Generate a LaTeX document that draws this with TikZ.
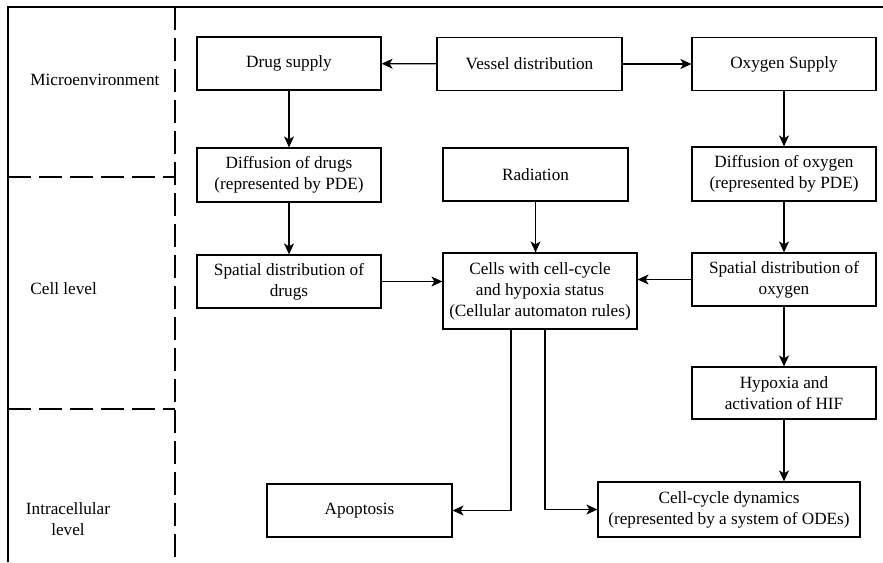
\documentclass[tikz,border=0pt]{standalone}
\usepackage{fontspec}
\setmainfont{LiberationSerif}[Extension=.ttf,UprightFont=*-Regular,BoldFont=*-Bold]
\usetikzlibrary{arrows.meta,positioning}

\begin{document}
\begin{tikzpicture}[x=0.5pt,y=-0.5pt,>={Stealth[length=5.5pt,width=5pt,inset=1.5pt]},
    every node/.style={font=\rmfamily\fontsize{8.6}{10.5}\selectfont},
    box/.style={draw,line width=0.6pt,minimum width=92pt,minimum height=26.5pt,align=center,inner sep=1pt},
    level/.style={align=center,inner sep=0pt},
    divider/.style={line width=0.6pt,dash pattern=on 11.5pt off 4pt}]

    \useasboundingbox (0,0) rectangle (883,562);

    % frame and levels
    \draw[line width=0.6pt] (8,562) -- (8,7) -- (883,7);
    \draw[divider] (175,7) -- (175,562);
    \draw[divider] (8,177) -- (175,177);
    \draw[divider] (8,409) -- (175,409);

    \node[level,anchor=west] (micro) at (30,80) {Microenvironment};
    \node[level,anchor=west] (celllev) at (30,289) {Cell level};
    \node[level] (intra) at (68,519) {Intracellular\\level};

    % boxes
    \node[box] (drug) at (289,63.5) {Drug supply};
    \node[box,minimum width=92.5pt] (vessel) at (529.5,64) {Vessel distribution};
    \node[box] (oxy) at (784,64) {Oxygen Supply};

    \node[box,minimum height=27pt] (diffd) at (289,175) {Diffusion of drugs\\(represented by PDE)};
    \node[box,minimum width=92.5pt] (rad) at (535.5,174.5) {Radiation};
    \node[box,minimum height=27pt] (diffo) at (784,174) {Diffusion of oxygen\\(represented by PDE)};

    \node[box] (spatd) at (289,281.5) {Spatial distribution of\\drugs};
    \node[box,minimum width=97pt,minimum height=38pt] (cells) at (540,291) {Cells with cell-cycle\\and hypoxia status\\(Cellular automaton rules)};
    \node[box] (spato) at (784,279.5) {Spatial distribution of\\oxygen};

    \node[box,minimum height=26pt] (hif) at (784,393) {Hypoxia and\\activation of HIF};

    \node[box,minimum width=92.5pt] (apo) at (359.5,510.5) {Apoptosis};
    \node[box,minimum width=131pt,minimum height=27.5pt] (ccd) at (729,509.5) {Cell-cycle dynamics\\(represented by a system of ODEs)};

    \coordinate (toapo) at ([xshift=-14.5pt]cells.south);
    \coordinate (toccd) at ([xshift=2.5pt]cells.south);

    % connectors
    \path[->,line width=0.6pt] (vessel) edge (drug)
              (vessel) edge (oxy)
              (drug) edge (diffd)
              (diffd) edge (spatd)
              (oxy) edge (diffo)
              (diffo) edge (spato)
              (spato) edge (hif);
    \draw[->,line width=0.6pt] (rad.south) -- (rad.south |- cells.north);
    \draw[->,line width=0.6pt] (spatd.east) -- (spatd.east -| cells.west);
    \draw[->,line width=0.6pt] (spato.west) -- (spato.west -| cells.east);
    \draw[->,line width=0.6pt] (hif.south) -- (hif.south |- ccd.north);
    \draw[->,line width=0.6pt] (toapo) |- (apo.east);
    \draw[->,line width=0.6pt] (toccd) |- (ccd.west);
\end{tikzpicture}
\end{document}
